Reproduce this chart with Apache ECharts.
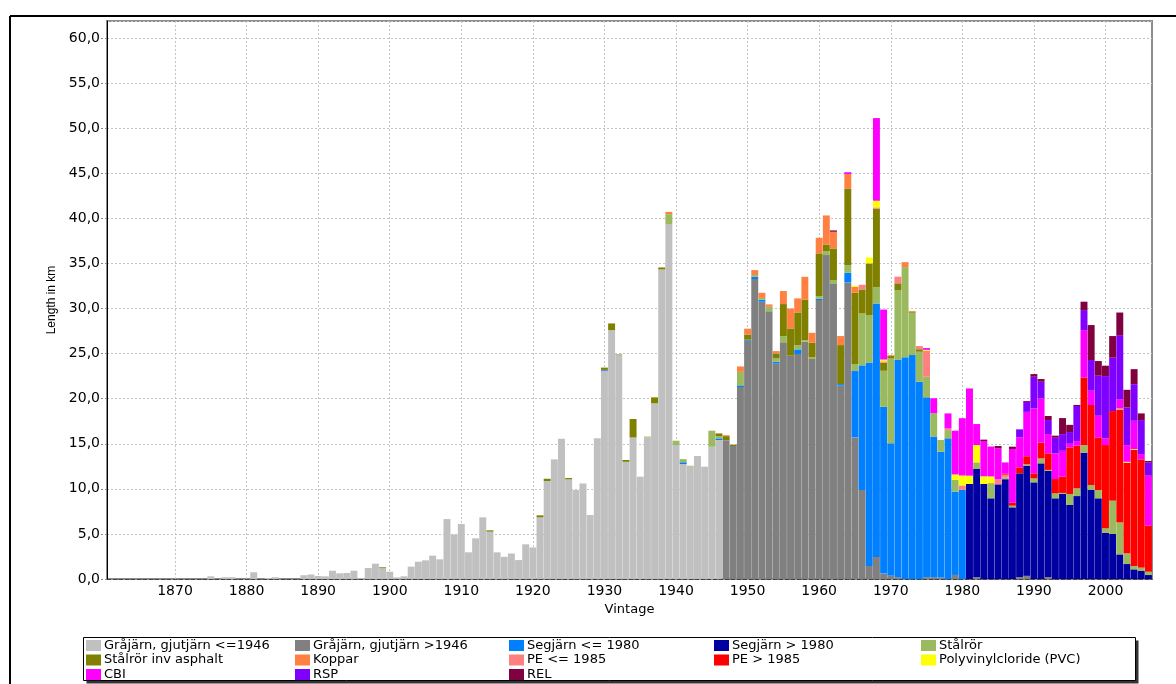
<!DOCTYPE html>
<html>
<head>
<meta charset="utf-8">
<script src="https://cdn.jsdelivr.net/npm/echarts@6/dist/echarts.min.js"></script>
<style>
  html, body { margin: 0; padding: 0; background: #ffffff; }
  #chart { width: 1176px; height: 684px; }
</style>
</head>
<body>
<div id="chart"></div>
<script>
// Pipe network length (km) per installation year, stacked by pipe material.
const firstYear = 1861;
const lastYear = 2006;
const decadeTicks = [1870, 1880, 1890, 1900, 1910, 1920, 1930, 1940, 1950, 1960, 1970, 1980, 1990, 2000];

const seriesNames = [
  'Gråjärn, gjutjärn <=1946', 'Gråjärn, gjutjärn >1946', 'Segjärn <= 1980', 'Segjärn > 1980',
  'Stålrör', 'Stålrör inv asphalt', 'Koppar', 'PE <= 1985', 'PE > 1985',
  'Polyvinylcloride (PVC)', 'CBI', 'RSP', 'REL'
];
const seriesColors = [
  '#c0c0c0', '#808080', '#0080ff', '#0000a0', '#9bba5f', '#808000', '#ff8040',
  '#ff8080', '#ff0000', '#ffff00', '#ff00ff', '#8000ff', '#800040'
];

// [year, km] for each material; years not listed are zero
const grajarnOld = [
  [1875, 0.3], [1877, 0.2], [1878, 0.2], [1881, 0.75], [1883, 0.1], [1884, 0.2],
  [1888, 0.42], [1889, 0.5], [1890, 0.33], [1891, 0.3], [1892, 0.92], [1893, 0.63],
  [1894, 0.67], [1895, 0.92], [1896, 0.1], [1897, 1.22], [1898, 1.7], [1899, 1.2],
  [1900, 0.81], [1901, 0.18], [1902, 0.3], [1903, 1.37], [1904, 1.92], [1905, 2.07],
  [1906, 2.59], [1907, 2.18], [1908, 6.65], [1909, 4.95], [1910, 6.1], [1911, 2.96],
  [1912, 4.51], [1913, 6.84], [1914, 5.25], [1915, 2.96], [1916, 2.46], [1917, 2.83],
  [1918, 2.1], [1919, 3.85], [1920, 3.5], [1921, 6.84], [1922, 10.87], [1923, 13.27],
  [1924, 15.56], [1925, 11.05], [1926, 9.87], [1927, 10.6], [1928, 7.1], [1929, 15.6],
  [1930, 23.1], [1931, 27.6], [1932, 24.84], [1933, 13.0], [1934, 15.7], [1935, 11.35],
  [1936, 15.7], [1937, 19.48], [1938, 34.34], [1939, 39.37], [1940, 14.86], [1941, 12.75],
  [1942, 12.46], [1943, 13.64], [1944, 12.46], [1945, 14.67], [1946, 15.42]
];
const grajarnNew = [
  [1947, 15.4], [1948, 14.75], [1949, 21.3], [1950, 26.43], [1951, 33.27], [1952, 30.76],
  [1953, 29.69], [1954, 23.92], [1955, 26.25], [1956, 24.77], [1957, 24.95], [1958, 26.32],
  [1959, 24.4], [1960, 30.94], [1961, 35.93], [1962, 32.72], [1963, 21.44], [1964, 32.9],
  [1965, 15.71], [1966, 9.87], [1967, 1.44], [1968, 2.45], [1969, 0.6], [1970, 0.35],
  [1971, 0.2], [1975, 0.2], [1976, 0.2], [1977, 0.15], [1979, 0.45], [1982, 0.2],
  [1988, 0.2], [1989, 0.35], [1992, 0.2]
];
const segjarnOld = [
  [1930, 0.1], [1941, 0.2], [1946, 0.18], [1949, 0.18], [1950, 0.12], [1951, 0.25],
  [1952, 0.22], [1954, 0.18], [1957, 0.52], [1960, 0.15], [1963, 0.18], [1964, 1.07],
  [1965, 7.36], [1966, 13.83], [1967, 22.59], [1968, 28.12], [1969, 18.5], [1970, 14.7],
  [1971, 24.1], [1972, 24.6], [1973, 24.84], [1974, 21.88], [1975, 19.95], [1976, 15.6],
  [1977, 13.97], [1978, 15.6], [1979, 9.25], [1980, 9.9]
];
const segjarnNew = [
  [1981, 10.54], [1982, 12.0], [1983, 10.54], [1984, 8.95], [1985, 10.5], [1986, 11.07],
  [1987, 7.95], [1988, 11.52], [1989, 12.22], [1990, 10.72], [1991, 12.83], [1992, 11.8],
  [1993, 8.95], [1994, 9.45], [1995, 8.21], [1996, 9.2], [1997, 14.01], [1998, 9.87],
  [1999, 8.95], [2000, 5.14], [2001, 4.99], [2002, 2.73], [2003, 1.66], [2004, 1.07],
  [2005, 0.89], [2006, 0.44]
];
const stalror = [
  [1932, 0.1], [1936, 0.1], [1939, 1.1], [1940, 0.48], [1941, 0.35], [1942, 0.1],
  [1945, 1.78], [1946, 0.25], [1949, 1.5], [1951, 0.2], [1952, 0.2], [1953, 0.51],
  [1954, 0.37], [1955, 0.7], [1957, 0.48], [1958, 0.18], [1959, 0.18], [1960, 0.3],
  [1961, 0.45], [1962, 0.45], [1964, 0.85], [1965, 0.77], [1966, 5.76], [1967, 5.25],
  [1968, 1.81], [1969, 4.0], [1970, 9.42], [1971, 7.76], [1972, 10.0], [1973, 4.7],
  [1974, 3.33], [1975, 2.29], [1976, 2.58], [1977, 1.3], [1978, 0.92], [1979, 1.3],
  [1982, 0.74], [1984, 1.59], [1986, 0.2], [1987, 0.18], [1989, 0.15], [1990, 0.44],
  [1991, 0.55], [1992, 0.1], [1993, 0.55], [1994, 0.1], [1995, 1.22], [1996, 0.86],
  [1997, 0.85], [1998, 0.55], [1999, 0.92], [2000, 0.48], [2001, 3.7], [2002, 3.55],
  [2003, 1.19], [2004, 0.37], [2005, 0.37], [2006, 0.37]
];
const stalrorAsfalt = [
  [1899, 0.1], [1914, 0.15], [1921, 0.22], [1922, 0.25], [1925, 0.15], [1930, 0.25],
  [1931, 0.75], [1933, 0.2], [1934, 2.05], [1937, 0.67], [1938, 0.22], [1946, 0.3],
  [1947, 0.45], [1948, 0.15], [1950, 0.55], [1954, 0.55], [1955, 3.55], [1956, 3.03],
  [1957, 3.62], [1958, 4.5], [1959, 1.63], [1960, 4.73], [1961, 0.73], [1962, 3.5],
  [1963, 4.33], [1964, 8.5], [1965, 7.91], [1966, 2.66], [1967, 5.73], [1968, 8.69],
  [1969, 0.89], [1970, 0.26], [1971, 0.74], [1973, 0.1], [1974, 0.28]
];
const koppar = [
  [1939, 0.25], [1947, 0.1], [1949, 0.6], [1950, 0.67], [1951, 0.55], [1952, 0.57],
  [1953, 0.26], [1954, 0.26], [1955, 1.44], [1956, 2.2], [1957, 1.56], [1958, 2.52],
  [1959, 1.1], [1960, 1.73], [1961, 3.22], [1962, 1.85], [1963, 1.0], [1964, 1.6],
  [1965, 0.67], [1970, 0.1], [1972, 0.55], [1973, 0.1]
];
const peOld = [
  [1966, 0.52], [1968, 0.15], [1969, 0.15], [1971, 0.74], [1974, 0.35], [1975, 2.88],
  [1978, 0.18], [1980, 0.48], [1984, 0.1], [1985, 0.55], [1986, 0.3]
];
const peNew = [
  [1986, 0.1], [1987, 0.33], [1988, 0.66], [1989, 0.9], [1990, 0.56], [1991, 1.74],
  [1992, 1.84], [1993, 1.59], [1994, 1.82], [1995, 5.17], [1996, 4.73], [1997, 7.5],
  [1998, 8.88], [1999, 5.84], [2000, 9.24], [2001, 9.94], [2002, 12.53], [2003, 10.05],
  [2004, 12.87], [2005, 12.01], [2006, 5.11]
];
const pvc = [
  [1965, 0.1], [1967, 0.66], [1968, 0.74], [1969, 0.2], [1975, 0.1], [1979, 0.6],
  [1980, 1.1], [1981, 0.92], [1982, 1.92], [1983, 0.85], [1984, 0.74], [2002, 0.1],
  [2003, 0.1], [2004, 0.1]
];
const cbi = [
  [1964, 0.2], [1968, 9.17], [1969, 5.55], [1975, 0.2], [1976, 1.67], [1978, 1.67],
  [1979, 4.85], [1980, 6.36], [1981, 9.68], [1982, 2.33], [1983, 3.92], [1984, 3.32],
  [1985, 3.44], [1986, 1.26], [1987, 5.96], [1988, 3.33], [1989, 4.92], [1990, 7.21],
  [1991, 4.92], [1992, 2.14], [1993, 2.85], [1994, 2.85], [1995, 0.4], [1996, 0.51],
  [1997, 5.25], [1998, 1.59], [1999, 2.4], [2000, 0.74], [2002, 1.04], [2003, 1.85],
  [2004, 3.14], [2005, 0.59], [2006, 5.54]
];
const rsp = [
  [1988, 0.89], [1989, 1.11], [1990, 3.51], [1991, 1.84], [1992, 1.55], [1993, 1.73],
  [1994, 1.85], [1995, 1.3], [1996, 3.89], [1997, 2.22], [1998, 3.4], [1999, 4.44],
  [2000, 6.91], [2001, 5.92], [2002, 7.1], [2003, 4.18], [2004, 4.06], [2005, 3.77],
  [2006, 1.48]
];
const rel = [
  [1962, 0.15], [1983, 0.15], [1985, 0.26], [1987, 0.26], [1989, 0.1], [1990, 0.29],
  [1991, 0.3], [1992, 0.45], [1993, 0.23], [1994, 1.78], [1995, 0.8], [1996, 0.12],
  [1997, 0.93], [1998, 3.88], [1999, 1.63], [2000, 1.15], [2001, 2.4], [2002, 2.51],
  [2003, 1.96], [2004, 1.67], [2005, 0.74], [2006, 0.15]
];

const seriesValues = [
  grajarnOld, grajarnNew, segjarnOld, segjarnNew, stalror, stalrorAsfalt, koppar,
  peOld, peNew, pvc, cbi, rsp, rel
];

// Legend is laid out as five columns of up to three entries
const legendColumns = [
  [0, 5, 10], [1, 6, 11], [2, 7, 12], [3, 8], [4, 9]
];
const legendColumnX = [86, 295, 509, 714, 921];

const years = [];
for (let y = firstYear; y <= lastYear; y++) years.push(y);

// Expand each sparse list to one value per year (category order)
function expand(pairs) {
  const lookup = new Map(pairs);
  return years.map(y => (lookup.has(y) ? lookup.get(y) : 0));
}

const fmtComma = v => v.toFixed(1).replace('.', ',');

const chart = echarts.init(document.getElementById('chart'), null, { renderer: 'canvas' });

const series = seriesNames.map((name, i) => ({
  name: name,
  type: 'bar',
  stack: 'total',
  xAxisIndex: 0,
  data: expand(seriesValues[i]),
  barCategoryGap: '3%',
  itemStyle: { color: seriesColors[i] },
  emphasis: { disabled: true }
}));

const legends = legendColumns.map((col, c) => ({
  orient: 'vertical',
  left: legendColumnX[c],
  top: 639,
  height: 45,
  padding: 0,
  itemGap: 1.5,
  itemWidth: 15,
  itemHeight: 11,
  icon: 'rect',
  selectedMode: false,
  textStyle: {
    fontFamily: 'DejaVu Sans', fontSize: 13, lineHeight: 13, color: '#000',
    padding: [0, 0, 0, -2]
  },
  data: col.map(i => seriesNames[i])
}));

const gridStyle = { color: '#c4c4c4', type: [2, 2], width: 1 };

chart.setOption({
  animation: false,
  backgroundColor: '#ffffff',
  color: seriesColors,
  grid: {
    left: 107, right: 24, top: 21, bottom: 105,
    show: true, borderColor: '#8c8c8c', borderWidth: 2, backgroundColor: 'transparent'
  },
  legend: legends,
  graphic: [
    { type: 'line', z: 10, shape: { x1: 10, y1: 16, x2: 1176, y2: 16 }, style: { stroke: '#000', lineWidth: 2 } },
    { type: 'line', z: 10, shape: { x1: 10, y1: 16, x2: 10, y2: 684 }, style: { stroke: '#000', lineWidth: 2 } },
    { type: 'rect', z: 0, shape: { x: 86.5, y: 640.5, width: 1052, height: 43 }, style: { fill: '#333', stroke: null } },
    { type: 'rect', z: 1, shape: { x: 83.5, y: 637.5, width: 1052, height: 43 }, style: { fill: '#fff', stroke: '#000', lineWidth: 1 } }
  ],
  xAxis: [
    {
      // year categories carrying the bars
      type: 'category',
      data: years.map(String),
      boundaryGap: true,
      show: false
    },
    {
      // continuous year scale carrying the decade labels and grid
      type: 'value',
      position: 'bottom',
      min: firstYear - 0.5,
      max: lastYear + 0.5,
      name: 'Vintage',
      nameLocation: 'middle',
      nameGap: 20,
      nameTextStyle: { fontFamily: 'DejaVu Sans', fontSize: 13, color: '#000' },
      axisLine: { show: true, onZero: false, lineStyle: { color: '#444', width: 1, type: 'dashed' } },
      axisTick: { show: false, customValues: decadeTicks },
      axisLabel: {
        customValues: decadeTicks,
        fontFamily: 'DejaVu Sans', fontSize: 14, color: '#000', margin: 5,
        formatter: v => String(v)
      },
      splitLine: { show: true, lineStyle: gridStyle }
    }
  ],
  yAxis: {
    type: 'value',
    min: 0,
    max: 61.9,
    interval: 5,
    name: 'Length in km',
    nameLocation: 'middle',
    nameGap: 44,
    nameRotate: 90,
    nameTextStyle: { fontFamily: 'Liberation Sans', fontSize: 12, color: '#000' },
    axisLine: { show: true, lineStyle: { color: '#000', width: 1 } },
    axisTick: { show: true, length: 6, lineStyle: { color: '#888', type: [2, 2] } },
    axisLabel: {
      fontFamily: 'DejaVu Sans', fontSize: 14, color: '#000', margin: 7,
      showMaxLabel: false,
      formatter: fmtComma
    },
    splitLine: { show: true, lineStyle: gridStyle }
  },
  series: series
});
</script>
</body>
</html>
